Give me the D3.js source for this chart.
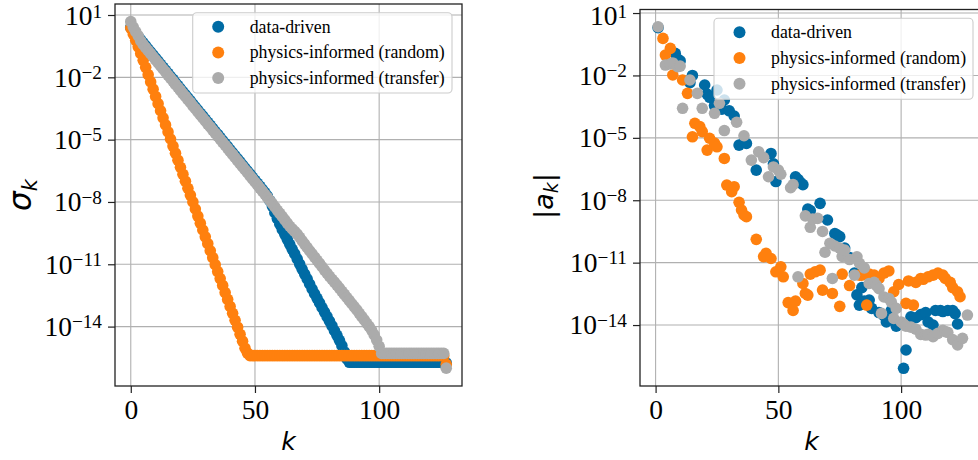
<!DOCTYPE html>
<html><head><meta charset="utf-8">
<script src="https://cdn.jsdelivr.net/npm/d3@7"></script>
<style>body{margin:0;background:#fff} svg{display:block}</style>
</head><body>
<svg id="chart" width="978" height="460"></svg>
<script>
// ---------------- data (values stored as log10 exponents) ----------------
const seriesNames = ["data-driven", "physics-informed (random)", "physics-informed (transfer)"];
const seriesColors = ["#006BA4", "#FF800E", "#ABABAB"];
const xTicks = [0, 50, 100];
const yTickExps = [1, -2, -5, -8, -11, -14];

// left panel: singular values sigma_k, k = 0..127
const kLeft = d3.range(0, 128);
const sigmaDataDrivenExp = [
  0.40, 0.25, 0.10, -0.05, -0.19, -0.34, -0.49, -0.64, -0.78, -0.93,
  -1.08, -1.22, -1.37, -1.52, -1.66, -1.81, -1.96, -2.10, -2.26, -2.40,
  -2.55, -2.70, -2.84, -2.99, -3.13, -3.29, -3.43, -3.58, -3.73, -3.87,
  -4.02, -4.17, -4.31, -4.46, -4.61, -4.75, -4.90, -5.05, -5.19, -5.34,
  -5.49, -5.63, -5.78, -5.93, -6.07, -6.22, -6.37, -6.51, -6.66, -6.81,
  -6.96, -7.10, -7.25, -7.40, -7.55, -7.72, -7.94, -8.20, -8.52, -8.80,
  -9.07, -9.32, -9.56, -9.80, -10.04, -10.28, -10.50, -10.74, -10.99, -11.24,
  -11.47, -11.70, -11.95, -12.19, -12.42, -12.64, -12.86, -13.08, -13.30, -13.52,
  -13.74, -13.97, -14.20, -14.42, -14.66, -14.92, -15.22, -15.55, -15.72, -15.72,
  -15.72, -15.72, -15.72, -15.72, -15.72, -15.72, -15.72, -15.72, -15.72, -15.72,
  -15.72, -15.72, -15.72, -15.72, -15.72, -15.72, -15.72, -15.72, -15.72, -15.72,
  -15.72, -15.72, -15.72, -15.72, -15.72, -15.72, -15.72, -15.72, -15.72, -15.72,
  -15.72, -15.72, -15.72, -15.72, -15.72, -15.72, -15.72, -15.75
];
const sigmaRandomExp = [
  0.37, 0.08, -0.22, -0.53, -0.85, -1.18, -1.52, -1.87, -2.22, -2.57,
  -2.92, -3.27, -3.61, -3.95, -4.29, -4.63, -4.97, -5.31, -5.65, -5.99,
  -6.33, -6.67, -7.00, -7.34, -7.67, -8.00, -8.34, -8.68, -9.02, -9.35,
  -9.68, -10.01, -10.35, -10.68, -11.02, -11.35, -11.69, -12.02, -12.36, -12.69,
  -13.03, -13.36, -13.70, -14.03, -14.37, -14.70, -15.04, -15.28, -15.40, -15.40,
  -15.40, -15.40, -15.40, -15.40, -15.40, -15.40, -15.40, -15.40, -15.40, -15.40,
  -15.40, -15.40, -15.40, -15.40, -15.40, -15.40, -15.40, -15.40, -15.40, -15.40,
  -15.40, -15.40, -15.40, -15.40, -15.40, -15.40, -15.40, -15.40, -15.40, -15.40,
  -15.40, -15.40, -15.40, -15.40, -15.40, -15.40, -15.40, -15.40, -15.40, -15.40,
  -15.40, -15.40, -15.40, -15.40, -15.40, -15.40, -15.40, -15.40, -15.40, -15.40,
  -15.40, -15.40, -15.40, -15.40, -15.40, -15.40, -15.40, -15.40, -15.40, -15.40,
  -15.40, -15.40, -15.40, -15.40, -15.40, -15.40, -15.40, -15.40, -15.40, -15.40,
  -15.40, -15.40, -15.40, -15.40, -15.40, -15.40, -15.40, -15.82
];
const sigmaTransferExp = [
  0.68, 0.42, 0.20, 0.00, -0.25, -0.42, -0.57, -0.71, -0.86, -1.01,
  -1.16, -1.30, -1.45, -1.60, -1.74, -1.89, -2.04, -2.18, -2.34, -2.48,
  -2.63, -2.78, -2.92, -3.07, -3.21, -3.37, -3.51, -3.66, -3.81, -3.95,
  -4.10, -4.25, -4.39, -4.54, -4.69, -4.83, -4.98, -5.13, -5.27, -5.42,
  -5.57, -5.71, -5.86, -6.01, -6.15, -6.30, -6.45, -6.59, -6.74, -6.89,
  -7.04, -7.18, -7.33, -7.48, -7.63, -7.78, -7.93, -8.08, -8.24, -8.40,
  -8.55, -8.70, -8.86, -9.02, -9.17, -9.30, -9.42, -9.55, -9.70, -9.87,
  -10.03, -10.19, -10.35, -10.50, -10.66, -10.81, -10.96, -11.12, -11.28, -11.43,
  -11.58, -11.72, -11.86, -12.00, -12.15, -12.30, -12.45, -12.60, -12.75, -12.90,
  -13.05, -13.20, -13.36, -13.52, -13.68, -13.84, -14.00, -14.18, -14.40, -14.65,
  -14.95, -15.29, -15.29, -15.29, -15.29, -15.29, -15.29, -15.29, -15.29, -15.29,
  -15.29, -15.29, -15.29, -15.29, -15.29, -15.29, -15.29, -15.29, -15.29, -15.29,
  -15.29, -15.29, -15.29, -15.29, -15.29, -15.29, -15.29, -16.00
];

// right panel: coefficients |a_k| as [k, log10 value]
const aDataDriven = [
  [1,0.30],[8,-0.94],[9,-1.22],[10,-1.30],[14,-2.35],[15,-2.00],[20,-2.46],[21,-2.90],[22,-3.05],
  [24,-3.45],[25,-2.70],[27,-3.62],[28,-3.18],[30,-3.70],[32,-3.95],[34,-5.35],[36,-5.20],[37,-5.27],
  [41,-6.55],[47,-5.75],[48,-6.25],[49,-7.10],[57,-6.87],[58,-7.00],[59,-7.15],[60,-7.25],[62,-8.42],
  [63,-8.50],[67,-8.15],[70,-8.95],[73,-9.60],[74,-9.67],[75,-9.75],[77,-10.30],[79,-10.75],[81,-11.50],
  [82,-12.55],[83,-13.04],[84,-12.20],[85,-12.85],[87,-12.80],[88,-13.20],[91,-13.40],[93,-13.55],
  [94,-13.85],[96,-13.30],[98,-14.05],[99,-13.90],[101,-16.08],[102,-15.20],[104,-13.60],[106,-13.65],
  [108,-13.50],[110,-13.40],[111,-13.85],[113,-14.00],[114,-13.30],[116,-13.30],[117,-13.35],
  [119,-13.30],[121,-13.30],[122,-13.45],[123,-13.95]
];
const aRandom = [
  [3,-0.22],[4,-1.02],[6,-0.70],[7,-1.98],[11,-2.22],[13,-2.86],[15,-4.95],[16,-4.30],[18,-4.46],
  [19,-4.70],[21,-5.59],[22,-5.02],[24,-5.25],[25,-5.43],[28,-5.99],[29,-7.27],[31,-7.59],[32,-7.35],
  [34,-8.10],[35,-8.47],[36,-8.71],[37,-8.79],[41,-9.88],[44,-10.71],[45,-10.55],[47,-10.80],
  [49,-11.44],[51,-11.20],[52,-11.68],[54,-12.92],[56,-13.30],[57,-12.85],[60,-12.00],[61,-12.48],
  [62,-12.56],[63,-11.55],[65,-11.44],[67,-11.36],[68,-12.32],[72,-12.48],[75,-13.10],[76,-11.55],
  [79,-12.10],[83,-11.60],[84,-11.60],[86,-13.04],[87,-11.55],[89,-11.60],[91,-11.76],[93,-11.50],
  [95,-11.40],[97,-12.40],[99,-12.05],[102,-12.96],[103,-11.88],[105,-13.04],[106,-11.95],
  [108,-11.76],[109,-11.80],[111,-11.68],[113,-11.60],[115,-11.50],[117,-11.60],[118,-11.76],
  [120,-11.95],[121,-12.20],[123,-12.40],[124,-12.64]
];
const aTransfer = [
  [1,0.34],[4,-1.50],[6,-1.45],[7,-1.40],[9,-1.58],[10,-1.55],[11,-3.58],[14,-2.22],[17,-2.86],
  [19,-3.58],[24,-3.82],[26,-3.34],[28,-4.65],[33,-4.25],[36,-4.90],[39,-6.07],[42,-5.67],[44,-5.95],
  [46,-6.87],[48,-6.40],[50,-6.55],[51,-6.75],[55,-7.40],[56,-7.25],[58,-11.68],[61,-8.75],[63,-9.30],
  [64,-8.90],[66,-8.87],[68,-9.50],[69,-10.50],[71,-10.07],[72,-11.76],[73,-10.20],[75,-10.30],
  [76,-10.70],[77,-10.40],[79,-10.85],[81,-11.60],[82,-10.72],[83,-11.03],[85,-11.25],[87,-12.00],
  [89,-11.95],[90,-12.10],[91,-12.25],[92,-13.44],[93,-12.65],[95,-12.72],[96,-12.90],[97,-13.68],
  [98,-13.20],[100,-13.85],[101,-13.95],[102,-14.05],[104,-14.10],[106,-14.20],[108,-14.45],
  [110,-14.48],[111,-14.45],[113,-14.56],[115,-14.40],[117,-14.25],[118,-14.32],[119,-14.35],
  [121,-14.70],[123,-14.96],[125,-14.64],[127,-13.52]
];

// ---------------- drawing ----------------
const svg = d3.select("#chart");
const SERIF = "'Liberation Serif', 'Times New Roman', serif";
const SANS = "'DejaVu Sans', sans-serif";
const R = 5.8;
const TICK_FS = 27.5;

function panel(cfg) {
  const x = d3.scaleLinear().domain([-6.35, 133.35]).range([cfg.left, cfg.right]);
  const y = d3.scaleLog().domain([Math.pow(10, cfg.yMinExp), Math.pow(10, cfg.yMaxExp)]).range([cfg.bottom, cfg.top]);
  const g = svg.append("g");
  const clipId = "clip" + cfg.id;
  g.append("clipPath").attr("id", clipId).append("rect")
    .attr("x", cfg.left).attr("y", cfg.top).attr("width", cfg.right - cfg.left).attr("height", cfg.bottom - cfg.top);

  // grid
  const grid = g.append("g").attr("stroke", "#b0b0b0").attr("stroke-width", 1.1);
  xTicks.forEach(t => grid.append("line").attr("x1", x(t)).attr("x2", x(t)).attr("y1", cfg.top).attr("y2", cfg.bottom));
  yTickExps.forEach(e => grid.append("line").attr("x1", cfg.left).attr("x2", cfg.right).attr("y1", y(Math.pow(10, e))).attr("y2", y(Math.pow(10, e))));

  // points
  const pts = g.append("g").attr("clip-path", `url(#${clipId})`);
  cfg.series.forEach((s, i) => {
    pts.append("g").selectAll("circle").data(s).join("circle")
      .attr("cx", d => x(d[0])).attr("cy", d => y(Math.pow(10, d[1]))).attr("r", R)
      .attr("fill", seriesColors[i]);
  });

  // axes
  const xAxis = d3.axisBottom(x).tickValues(xTicks).tickSize(7).tickPadding(6).tickFormat(d3.format("d"));
  const gx = g.append("g").attr("transform", `translate(0,${cfg.bottom})`).call(xAxis);
  gx.select(".domain").remove();
  gx.selectAll(".tick line").attr("stroke", "#222").attr("stroke-width", 1.2);
  gx.selectAll(".tick text").attr("fill", "#000").attr("y", 33.3).attr("dy", null)
    .style("font-family", SERIF).style("font-size", TICK_FS + "px");

  const yAxis = d3.axisLeft(y).tickValues(yTickExps.map(e => Math.pow(10, e))).tickSize(7).tickFormat("");
  const gy = g.append("g").attr("transform", `translate(${cfg.left},0)`).call(yAxis);
  gy.select(".domain").remove();
  gy.selectAll(".tick line").attr("stroke", "#222").attr("stroke-width", 1.2);
  yTickExps.forEach(e => {
    // keep the label box inside the canvas (top label sits near the upper edge)
    const base = Math.max(y(Math.pow(10, e)) + 9.3, 25.2);
    const t = g.append("text").attr("x", cfg.left - 13).attr("y", base)
      .attr("text-anchor", "end").style("font-family", SERIF).style("font-size", TICK_FS + "px").attr("fill", "#000");
    t.append("tspan").text("10");
    t.append("tspan").attr("dy", -7.5).style("font-size", (TICK_FS * 0.7) + "px").text(e < 0 ? "\u2212" + (-e) : String(e));
  });

  // spines
  g.append("rect").attr("x", cfg.left).attr("y", cfg.top).attr("width", cfg.right - cfg.left).attr("height", cfg.bottom - cfg.top)
    .attr("fill", "none").attr("stroke", "#222").attr("stroke-width", 1.3);

  // axis labels
  g.append("text").attr("x", (cfg.left + cfg.right) / 2).attr("y", 450).attr("text-anchor", "middle")
    .style("font-family", SANS).style("font-style", "italic").style("font-size", "25px").text("k");
  cfg.ylabel(g);

  // legend
  const L = cfg.legend;
  const lg = g.append("g");
  lg.append("rect").attr("x", L.x).attr("y", L.y).attr("width", L.w).attr("height", L.h).attr("rx", 4)
    .attr("fill", "#fff").attr("fill-opacity", 0.8).attr("stroke", "#cccccc").attr("stroke-width", 1.1);
  seriesNames.forEach((name, i) => {
    const cy = L.y + 14 + i * 25.7;
    lg.append("circle").attr("cx", L.x + 25.5).attr("cy", cy).attr("r", 6).attr("fill", seriesColors[i]);
    lg.append("text").attr("x", L.x + 57).attr("y", cy + 6).style("font-family", SERIF).style("font-size", "17.8px")
      .attr("fill", "#000").text(name);
  });
}

const leftSeries = [sigmaDataDrivenExp, sigmaRandomExp, sigmaTransferExp].map(arr => kLeft.map((k, i) => [k, arr[i]]));

panel({
  id: "L", left: 115, right: 462, top: 4, bottom: 386, yMinExp: -16.86, yMaxExp: 1.53,
  series: leftSeries,
  legend: { x: 192.7, y: 12.7, w: 259.3, h: 80.3 },
  ylabel: g => {
    const t = g.append("text").attr("transform", "translate(31,195) rotate(-90)").attr("text-anchor", "middle")
      .style("font-family", SANS).style("font-style", "italic").style("font-size", "31px");
    t.append("tspan").text("\u03C3");
    t.append("tspan").attr("dy", 6).style("font-size", "21px").text("k");
  }
});

panel({
  id: "R", left: 640, right: 983, top: 9.5, bottom: 386, yMinExp: -16.93, yMaxExp: 1.17,
  series: [aDataDriven, aRandom, aTransfer],
  legend: { x: 714, y: 18.3, w: 259, h: 81 },
  ylabel: g => {
    const t = g.append("text").attr("transform", "translate(553,196) rotate(-90)").attr("text-anchor", "middle")
      .style("font-family", SANS).style("font-size", "27px");
    t.append("tspan").text("|");
    t.append("tspan").style("font-style", "italic").text("a");
    t.append("tspan").attr("dy", 5).style("font-style", "italic").style("font-size", "19px").text("k");
    t.append("tspan").attr("dy", -5).text("|");
  }
});
</script>
</body></html>
